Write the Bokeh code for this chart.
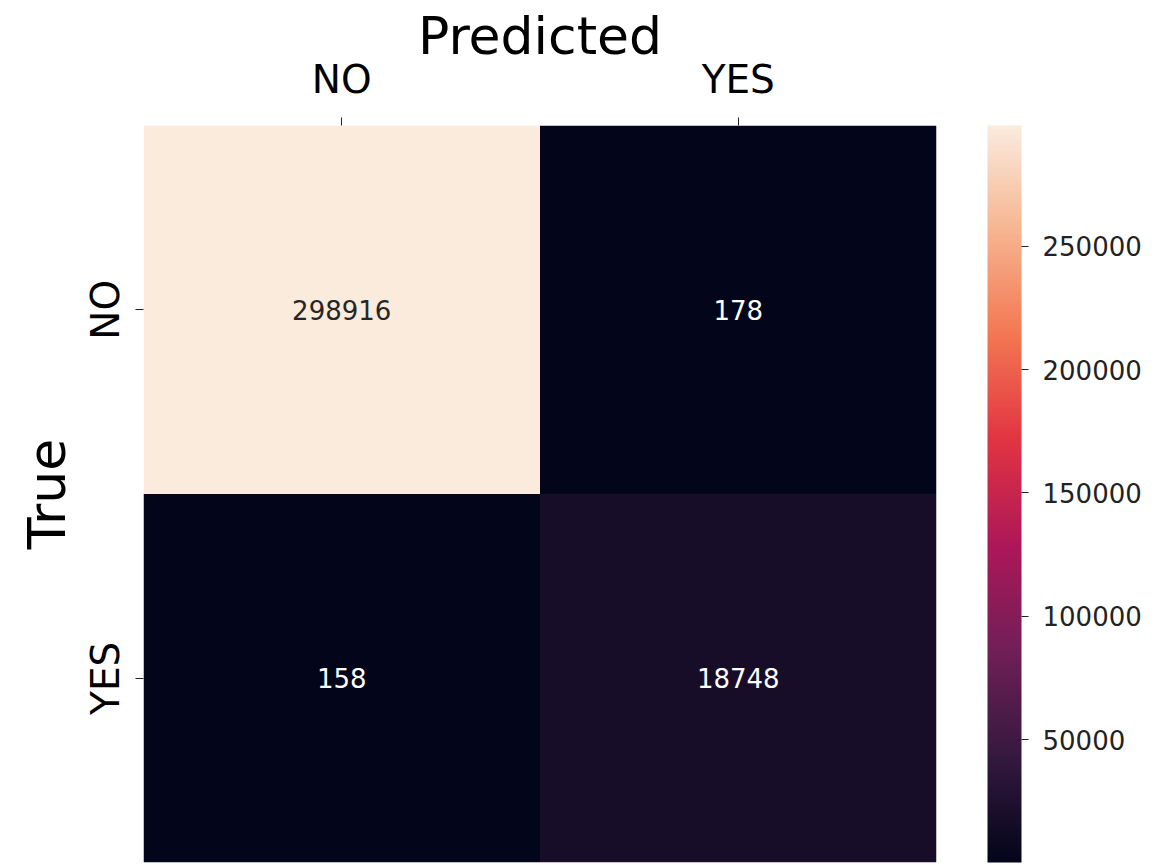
import numpy as np
from bokeh.plotting import figure
from bokeh.models import ColumnDataSource, LinearColorMapper, ColorBar, FixedTicker, BasicTickFormatter
from bokeh.transform import transform
from bokeh.core.properties import value
from bokeh.embed import file_html
from bokeh.resources import INLINE

# ---- data ----
predicted_labels = ["NO", "YES"]
true_labels = ["NO", "YES"]
counts_true_no = [298916, 178]
counts_true_yes = [158, 18748]
colorbar_ticks = [50000, 100000, 150000, 200000, 250000]

# ---- rocket colormap (anchor colours, interpolated) ----
anchors = ["#03051A", "#35193E", "#701F57", "#AD1759", "#E13342", "#F37651", "#F6B48F", "#FAEBDD"]
def hex2rgb(h):
    h = h.lstrip("#")
    return [int(h[i:i + 2], 16) for i in (0, 2, 4)]
arr = np.array([hex2rgb(a) for a in anchors], dtype=float)
pos = np.linspace(0, 1, len(anchors))
t = np.linspace(0, 1, 256)
rocket = ["#%02x%02x%02x" % tuple(int(round(np.interp(v, pos, arr[:, k]))) for k in range(3)) for v in t]

xs, ys, vals = [], [], []
for tl, row in zip(true_labels, [counts_true_no, counts_true_yes]):
    for pl, v in zip(predicted_labels, row):
        xs.append(pl)
        ys.append(tl)
        vals.append(v)
vmin, vmax = min(vals), max(vals)
txt_colors = ["#262626" if (v - vmin) / (vmax - vmin) > 0.5 else "#ffffff" for v in vals]
src = ColumnDataSource(dict(x=xs, y=ys, v=vals, label=[str(v) for v in vals], tc=txt_colors))

mapper = LinearColorMapper(palette=rocket, low=vmin, high=vmax)

FONT = "DejaVu Sans"
p = figure(width=1157, height=865, x_range=predicted_labels, y_range=list(reversed(true_labels)),
           x_axis_location="above", output_backend="svg", toolbar_location=None,
           min_border_left=143, min_border_top=125, min_border_bottom=3, min_border_right=221)
p.rect(x="x", y="y", width=1, height=1, source=src, fill_color=transform("v", mapper), line_color=None)
p.text(x="x", y="y", text="label", source=src, text_align="center", text_baseline="middle",
       text_color="tc", text_font=value(FONT), text_font_size="26px")

p.outline_line_color = None
p.grid.grid_line_color = None
for ax in (p.xaxis[0], p.yaxis[0]):
    ax.axis_line_color = None
    ax.major_tick_out = 8
    ax.major_tick_in = 0
    ax.major_tick_line_color = "#222222"
    ax.major_label_text_font = FONT
    ax.major_label_text_font_size = "39px"
    ax.major_label_text_color = "#000000"
    ax.axis_label_text_font = FONT
    ax.axis_label_text_font_size = "52px"
    ax.axis_label_text_font_style = "normal"
    ax.axis_label_text_color = "#000000"
p.xaxis.axis_label = "Predicted"
p.yaxis.axis_label = "True"
p.xaxis.major_label_standoff = 16
p.xaxis.axis_label_standoff = -12
p.yaxis.major_label_standoff = 8
p.yaxis.axis_label_standoff = 3
p.yaxis.major_label_orientation = "vertical"

cb = ColorBar(color_mapper=mapper, ticker=FixedTicker(ticks=colorbar_ticks),
              formatter=BasicTickFormatter(use_scientific=False),
              width=34, height=737, padding=0, margin=0, location=(51, 0),
              major_tick_out=7, major_tick_in=0, major_tick_line_color="#222222",
              major_label_text_font=FONT, major_label_text_font_size="26px",
              major_label_text_color="#222222", label_standoff=14,
              bar_line_color=None, border_line_color=None, background_fill_alpha=0)
p.add_layout(cb, "right")

open("out.html", "w").write(file_html(p, INLINE))
